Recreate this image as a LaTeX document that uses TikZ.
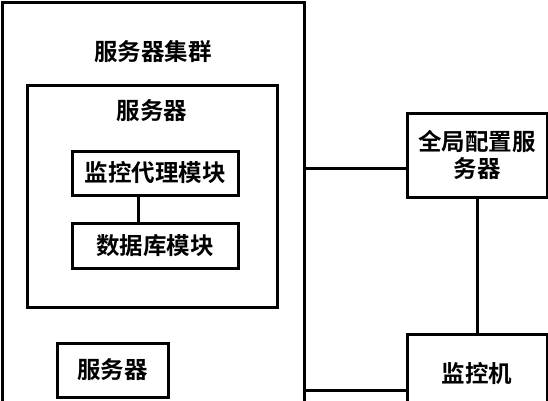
\documentclass[tikz,border=0pt]{standalone}
\usepackage{fontspec}
\newfontfamily\cjk{Noto Sans CJK SC}[BoldFont={Noto Sans CJK SC Bold}]
\begin{document}
\begin{tikzpicture}[x=1pt,y=-1pt,
  box/.style={draw=black,line width=3pt,inner sep=0pt,fill=none},
  lbl/.style={font=\cjk\bfseries\fontsize{23.5}{26.5}\selectfont,inner sep=0pt,align=center},
  wire/.style={line width=3pt}]
\useasboundingbox[clip] (0,0) rectangle (548,400);
\fill[white] (0,0) rectangle (548,400);
% boxes
\node[box,minimum width=302pt,minimum height=408pt] (outer) at (153,206) {};
\node[lbl] (title) at (153,52) {服务器集群};
\node[box,minimum width=250pt,minimum height=222pt] (server) at (152,196) {};
\node[lbl] (stitle) at (152,111) {服务器};
\node[box,lbl,minimum width=166pt,minimum height=44pt] (agent) at (155,173) {监控代理模块};
\node[box,lbl,minimum width=166pt,minimum height=45pt] (db) at (155,245.5) {数据库模块};
\node[box,lbl,minimum width=111pt,minimum height=54pt] (server2) at (112.5,370) {服务器};
\node[box,lbl,minimum width=140pt,minimum height=84pt] (global) at (477,155) {全局配置服\\务器};
\node[box,minimum width=140pt,minimum height=74pt] (monitor) at (477,371) {};
\node[lbl] (mtext) at (477,374) {监控机};
% connectors
\coordinate (v1) at (138,0);
\coordinate (h1) at (0,168);
\coordinate (h2) at (0,390);
\draw[wire] (agent.south -| v1) -- (db.north -| v1);
\draw[wire] (outer.east |- h1) -- (global.west |- h1);
\draw[wire] (outer.east |- h2) -- (monitor.west |- h2);
\draw[wire] (global.south) -- (monitor.north);
\end{tikzpicture}
\end{document}
